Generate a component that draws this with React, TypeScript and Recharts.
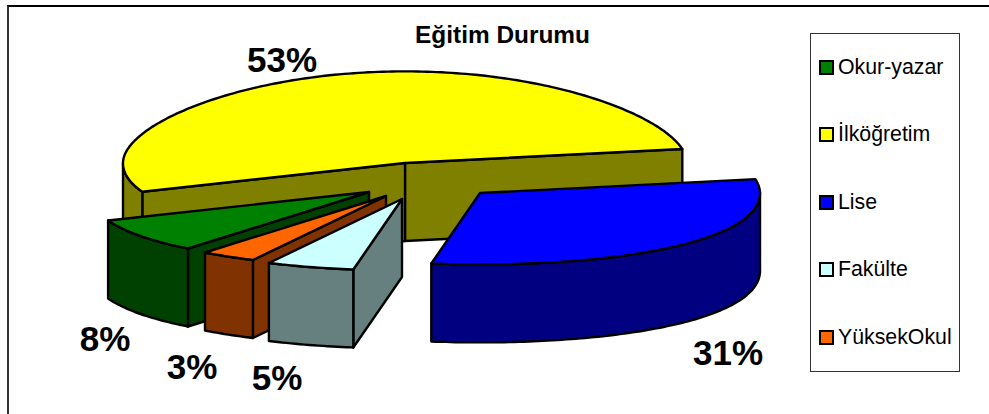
import React from "react";
import { PieChart, Pie, Legend } from "recharts";

const chartTitle = "Eğitim Durumu";
const legendNames = ["Okur-yazar", "İlköğretim", "Lise", "Fakülte", "YüksekOkul"];
const legendValues = [7.9, 53, 30.7, 5.1, 3.3];
const topColors = ["#008000", "#FFFF00", "#0000FF", "#CCFFFF", "#FF6600"];
const wallColors = ["#004000", "#808000", "#000080", "#668080", "#803300"];

// painter's order: back slice first, then counter-clockwise round the front
const drawOrder = [1, 0, 4, 3, 2];
const pieData = drawOrder.map((i) => ({
  name: legendNames[i],
  value: legendValues[i],
  fill: topColors[i],
  wall: wallColors[i],
}));

const W = 989;
const H = 414;
const DEPTH = 78;
const FONT = "'Liberation Sans', Arial, sans-serif";

// where each slice is pulled out to, and its label's centre, relative to the pie centre
const explode: Record<string, [number, number]> = {
  "Okur-yazar": [-35, 29],
  "İlköğretim": [1, 0],
  Lise: [76, 30],
  Fakülte: [-2, 36],
  YüksekOkul: [-18, 33],
};
const labelAt: Record<string, [number, number]> = {
  "Okur-yazar": [-299, 175],
  "İlköğretim": [-122, -104],
  Lise: [324, 189],
  Fakülte: [-127, 214],
  YüksekOkul: [-212, 203],
};

const rad = Math.PI / 180;

// slight perspective: the tilt is stronger at the back of the disc than at the front
function project(cx: number, cy: number, r: number, deg: number): [number, number] {
  const s = Math.sin(deg * rad);
  const k = s > 0 ? 0.26 + 0.065 * s : 0.295 + 0.04 * s;
  return [cx + r * Math.cos(deg * rad), cy - r * s * k];
}

function poly(points: [number, number][]) {
  return points.map((p) => `${p[0].toFixed(1)},${p[1].toFixed(1)}`).join(" ");
}

function Wedge(props: any) {
  const { cx, cy, outerRadius, startAngle, endAngle, name, fill, wall, percent } = props;
  const [ox, oy] = explode[name];
  const ax = cx + ox;
  const ay = cy + oy;
  const r = name === "İlköğretim" ? outerRadius + 2 : outerRadius;
  const a0 = Math.min(startAngle, endAngle);
  const a1 = Math.max(startAngle, endAngle);

  const rim: [number, number][] = [];
  for (let a = a0; a < a1; a += 1) rim.push(project(ax, ay, r, a));
  rim.push(project(ax, ay, r, a1));

  const down = (p: [number, number]): [number, number] => [p[0], p[1] + DEPTH];
  const apex: [number, number] = [ax, ay];
  const line = { stroke: "#000", strokeWidth: 2.4, strokeLinejoin: "round" as const };

  const faces: React.ReactNode[] = [];
  const addCut = (normal: number, end: [number, number], key: string) => {
    if (Math.sin(normal * rad) < 0) {
      faces.push(
        <polygon key={key} points={poly([apex, end, down(end), down(apex)])} fill={wall} {...line} />
      );
    }
  };
  addCut(a0 - 90, rim[0], "start");
  addCut(a1 + 90, rim[rim.length - 1], "end");

  // the front of the rim, where it faces the viewer
  const front: [number, number][] = [];
  for (let a = a0; a <= a1; a += 1) {
    const norm = ((a % 360) + 360) % 360;
    if (norm >= 180) front.push(project(ax, ay, r, a));
  }
  if (((a1 % 360) + 360) % 360 >= 180 && front.length) front.push(project(ax, ay, r, a1));

  const [lx, ly] = labelAt[name];
  return (
    <g>
      {faces}
      {front.length > 1 && (
        <polygon points={poly([...front, ...front.map(down).reverse()])} fill={wall} {...line} />
      )}
      <polygon points={poly([apex, ...rim])} fill={fill} {...line} />
      <text
        x={cx + lx}
        y={cy + ly}
        textAnchor="middle"
        dominantBaseline="central"
        fontFamily={FONT}
        fontWeight="bold"
        fontSize={35}
        fill="#000"
      >
        {`${Math.round(percent * 100)}%`}
      </text>
    </g>
  );
}

function LegendBox() {
  return (
    <div
      style={{
        position: "absolute",
        left: 810,
        top: 33,
        width: 150,
        height: 339,
        boxSizing: "border-box",
        border: "1px solid #333",
        fontFamily: FONT,
        fontSize: 21.3,
        color: "#000",
      }}
    >
      {legendNames.map((n, i) => (
        <div
          key={n}
          style={{ position: "absolute", left: 8, top: 21 + i * 67.5, display: "flex", alignItems: "center", height: 24, whiteSpace: "nowrap" }}
        >
          <span style={{ width: 15, height: 15, boxSizing: "border-box", border: "2.5px solid #000", background: topColors[i], marginRight: 4 }} />
          {n}
        </div>
      ))}
    </div>
  );
}

export default function App() {
  return (
    <div style={{ position: "absolute", left: 0, top: 0, width: W, height: H, background: "#fff", overflow: "hidden" }}>
      <div style={{ position: "absolute", left: 7, top: 5, width: 990, height: 420, borderLeft: "2px solid #333", borderTop: "2px solid #000", boxSizing: "border-box" }} />
      <div style={{ position: "absolute", left: 0, top: 0 }}>
        <PieChart width={W} height={H} margin={{ top: 0, right: 0, bottom: 0, left: 0 }}>
          <text x={502.5} y={34} textAnchor="middle" dominantBaseline="central" fontFamily={FONT} fontWeight="bold" fontSize={24.4} fill="#000">
            {chartTitle}
          </text>
          <Pie
            data={pieData}
            dataKey="value"
            nameKey="name"
            cx={404}
            cy={163}
            outerRadius={280}
            startAngle={10.5}
            endAngle={370.5}
            paddingAngle={0}
            isAnimationActive={false}
            label={false}
            labelLine={false}
            shape={Wedge}
            rootTabIndex={-1}
          />
          <Legend content={LegendBox} wrapperStyle={{ position: "absolute", left: 0, top: 0, width: W, height: 0 }} />
        </PieChart>
      </div>
    </div>
  );
}
